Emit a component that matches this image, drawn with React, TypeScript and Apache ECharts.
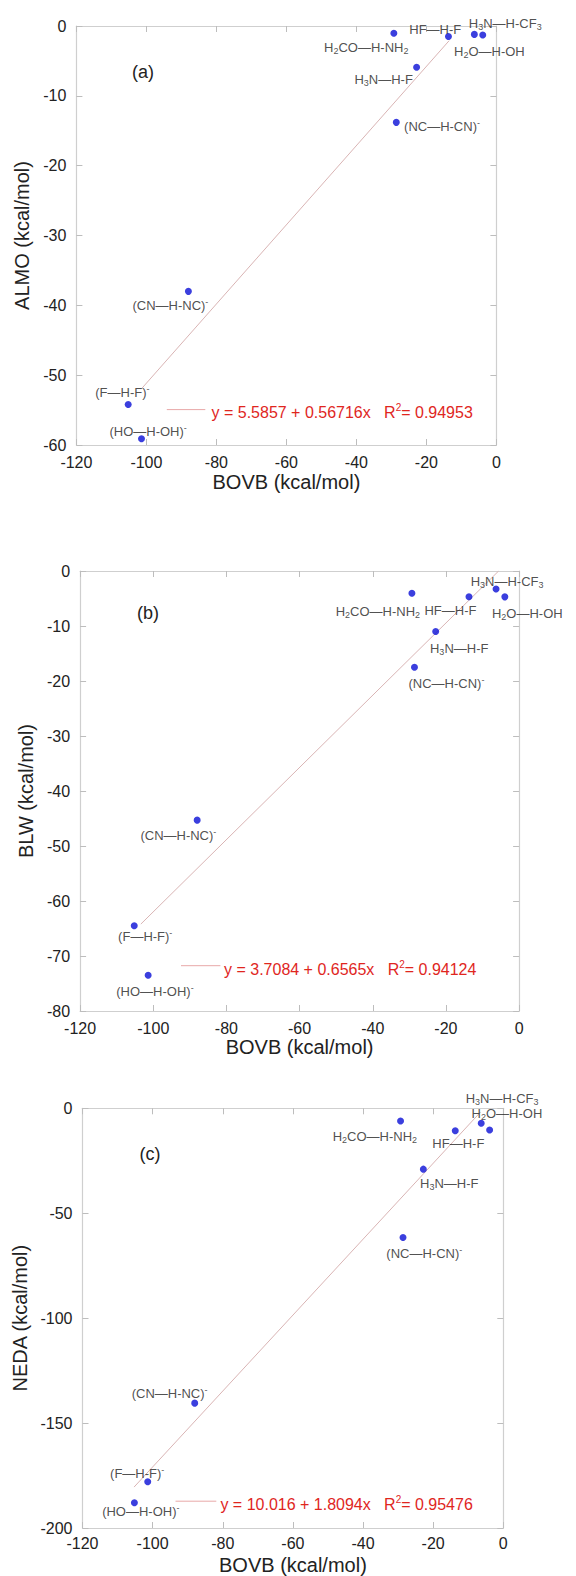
import React, { useEffect, useRef } from 'react';
import * as echarts from 'echarts';

// ---- data ----
const molecules = [
  '{n|H}{s|2}{n|CO—H-NH}{s|2}',
  '{n|HF—H-F}',
  '{n|H}{s|3}{n|N—H-CF}{s|3}',
  '{n|H}{s|2}{n|O—H-OH}',
  '{n|H}{s|3}{n|N—H-F}',
  '{n|(NC—H-CN)}{p|-}',
  '{n|(CN—H-NC)}{p|-}',
  '{n|(F—H-F)}{p|-}',
  '{n|(HO—H-OH)}{p|-}',
];
const bovb = [-29.3, -13.7, -6.3, -3.9, -22.8, -28.6, -88.0, -105.2, -101.4];
const almo = [-1.04, -1.5, -1.2, -1.3, -5.9, -13.8, -38.0, -54.2, -59.1];
const blw = [-4.05, -4.67, -3.27, -4.7, -11.0, -17.5, -45.3, -64.5, -73.5];
const neda = [-6.05, -10.7, -7.1, -10.3, -29.0, -61.6, -140.5, -188.0, -178.0];

const fitAlmo = [[-101.5, -52.0], [-13.5, -2.1]];
const fitBlw = [[-103.4, -64.2], [-5.6, 0]];
const fitNeda = [[-105.3, -180.5], [-6.5, -1.8]];

const eqAlmo = 'y = 5.5857 + 0.56716x';
const r2Almo = '= 0.94953';
const eqBlw = 'y = 3.7084 + 0.6565x';
const r2Blw = '= 0.94124';
const eqNeda = 'y = 10.016 + 1.8094x';
const r2Neda = '= 0.95476';

const xTitle = 'BOVB (kcal/mol)';
const yTitles = ['ALMO (kcal/mol)', 'BLW (kcal/mol)', 'NEDA (kcal/mol)'];
const panelLetters = ['(a)', '(b)', '(c)'];
const yMins = [-60, -80, -200];
const yIntervals = [10, 10, 50];

// ---- layout ----
const FONT = '"Liberation Sans", Arial, Helvetica, sans-serif';
const grids = [
  { left: 76.4, top: 26, width: 420, height: 419 },
  { left: 80.1, top: 571, width: 439, height: 440 },
  { left: 82.5, top: 1108.3, width: 420.8, height: 420 },
];
const yNameGaps = [36, 41, 43];
const yLabelMargins = [10, 10, 10];
const xLabelMargins = [9, 9, 7];
const xNameGaps = [27, 26, 27];
const labelOffsets = [
  [[-27.6, 14.4], [-13.2, -7.4], [30.9, -11], [6.6, 16.7], [-33, 12], [45.7, 4], [-18, 14.4], [-5.8, -11.7], [6.6, -7.3]],
  [[-34, 18.4], [-18.5, 14], [11, -7.3], [22.5, 17], [23.5, 17.3], [32, 16.7], [-18.8, 15], [11, 10.7], [6.8, 16.7]],
  [[-25.7, 15.7], [3.1, 12.6], [20.9, -25], [17.3, -16.7], [25.9, 14.7], [21.3, 15.6], [-25.1, -10], [2.8, -29.4], [-6.9, 29.7]],
];
const legendLines = [
  { x1: 166.8, x2: 205.3, y: 409.6, tx: 211.5, ty: 412.3 },
  { x1: 181, x2: 220.4, y: 965.7, tx: 224, ty: 969.3 },
  { x1: 175.5, x2: 216.3, y: 1501.2, tx: 220.4, ty: 1504 },
];
const letterPos = [
  [143, 71.7],
  [148, 613.3],
  [150, 1154],
];

const AXIS_LINE = '#cfcfcf';
const TICK = '#bdbdbd';
const TEXT = '#222';
const RED = '#e0261e';
const BLUE = '#0a0fd6';
const FIT = '#d9b4b4';

export default function App() {
  const ref = useRef<HTMLDivElement>(null);
  useEffect(() => {
    if (!ref.current) return;
    const chart = echarts.init(ref.current, undefined, { renderer: 'svg' });
    const ys = [almo, blw, neda];
    const fits = [fitAlmo, fitBlw, fitNeda];
    const eqs = [eqAlmo, eqBlw, eqNeda];
    const r2s = [r2Almo, r2Blw, r2Neda];

    const xAxis: any[] = [];
    const yAxis: any[] = [];
    const series: any[] = [];
    const graphic: any[] = [];

    for (let i = 0; i < 3; i++) {
      const tickCommon = {
        show: true,
        inside: true,
        length: 6,
        lineStyle: { color: TICK, width: 1 },
      };
      const lineCommon = { show: true, onZero: false, lineStyle: { color: AXIS_LINE, width: 1.2 } };
      xAxis.push({
        type: 'value',
        gridIndex: i,
        position: 'bottom',
        min: -120,
        max: 0,
        interval: 20,
        axisLine: lineCommon,
        axisTick: tickCommon,
        splitLine: { show: false },
        axisLabel: { color: TEXT, fontSize: 16, fontFamily: FONT, margin: xLabelMargins[i] },
        name: xTitle,
        nameLocation: 'middle',
        nameGap: xNameGaps[i],
        nameTextStyle: { color: TEXT, fontSize: 20, fontFamily: FONT },
      });
      xAxis.push({
        type: 'value',
        gridIndex: i,
        position: 'top',
        min: -120,
        max: 0,
        interval: 20,
        axisLine: lineCommon,
        axisTick: tickCommon,
        splitLine: { show: false },
        axisLabel: { show: false },
      });
      yAxis.push({
        type: 'value',
        gridIndex: i,
        position: 'left',
        min: yMins[i],
        max: 0,
        interval: yIntervals[i],
        axisLine: lineCommon,
        axisTick: tickCommon,
        splitLine: { show: false },
        axisLabel: { color: TEXT, fontSize: 16, fontFamily: FONT, margin: yLabelMargins[i] },
        name: yTitles[i],
        nameLocation: 'middle',
        nameGap: yNameGaps[i],
        nameTextStyle: { color: TEXT, fontSize: 20, fontFamily: FONT },
      });
      yAxis.push({
        type: 'value',
        gridIndex: i,
        position: 'right',
        min: yMins[i],
        max: 0,
        interval: yIntervals[i],
        axisLine: lineCommon,
        axisTick: tickCommon,
        splitLine: { show: false },
        axisLabel: { show: false },
      });

      series.push({
        type: 'line',
        xAxisIndex: 2 * i,
        yAxisIndex: 2 * i,
        data: fits[i],
        showSymbol: false,
        symbol: 'none',
        silent: true,
        lineStyle: { color: FIT, width: 1 },
        z: 1,
      });
      series.push({
        type: 'scatter',
        xAxisIndex: 2 * i,
        yAxisIndex: 2 * i,
        symbolSize: 7,
        itemStyle: { color: BLUE },
        z: 3,
        data: bovb.map((x, k) => ({
          value: [x, ys[i][k]],
          label: { offset: labelOffsets[i][k] },
        })),
        label: {
          show: true,
          position: 'inside',
          align: 'center',
          verticalAlign: 'middle',
          formatter: (p: any) => molecules[p.dataIndex],
          lineHeight: 16,
          rich: {
            n: { fontSize: 13, color: TEXT, fontFamily: FONT, lineHeight: 16 },
            s: { fontSize: 9, color: TEXT, fontFamily: FONT, lineHeight: 9, verticalAlign: 'bottom' },
            p: { fontSize: 9, color: TEXT, fontFamily: FONT, lineHeight: 9, verticalAlign: 'top' },
          },
        },
      });

      const L = legendLines[i];
      graphic.push({
        type: 'line',
        shape: { x1: L.x1, y1: L.y, x2: L.x2, y2: L.y },
        style: { stroke: '#e8a8a8', lineWidth: 1 },
        silent: true,
      });
      graphic.push({
        type: 'text',
        x: L.tx,
        y: L.ty,
        silent: true,
        style: {
          text: '{r|' + eqs[i] + '\u00a0\u00a0\u00a0R}{sup|2}{r|' + r2s[i] + '}',
          align: 'left',
          verticalAlign: 'middle',
          textAlign: 'left',
          textVerticalAlign: 'middle',
          rich: {
            r: { fontSize: 16, fill: RED, color: RED, fontFamily: FONT, lineHeight: 19 },
            sup: { fontSize: 10, fill: RED, color: RED, fontFamily: FONT, lineHeight: 10, verticalAlign: 'top' },
          },
        },
      });
      graphic.push({
        type: 'text',
        x: letterPos[i][0],
        y: letterPos[i][1],
        silent: true,
        style: {
          text: panelLetters[i],
          fill: TEXT,
          font: '18px ' + FONT,
          align: 'center',
          verticalAlign: 'middle',
          textAlign: 'center',
          textVerticalAlign: 'middle',
        },
      });
    }

    chart.setOption({
      animation: false,
      backgroundColor: '#ffffff',
      textStyle: { fontFamily: FONT },
      grid: grids,
      xAxis,
      yAxis,
      series,
      graphic,
    });
    return () => chart.dispose();
  }, []);
  return (
    <div
      ref={ref}
      style={{ position: 'absolute', left: 0, top: 0, width: 576, height: 1576, background: '#fff' }}
    />
  );
}
